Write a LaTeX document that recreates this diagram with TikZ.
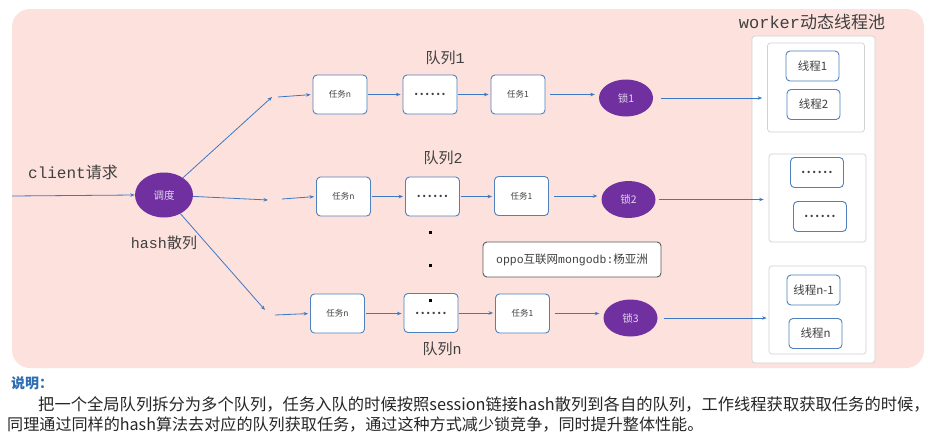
\documentclass[tikz,border=0pt]{standalone}
\usepackage{fontspec}
\setmainfont{Noto Sans CJK SC}
\setmonofont{Liberation Mono}
\usetikzlibrary{shapes.geometric,arrows.meta}
\definecolor{bgpink}{HTML}{FDE1DD}
\definecolor{boxblue}{HTML}{4F81BD}
\definecolor{arrblue}{HTML}{3C78C3}
\definecolor{lockpurple}{HTML}{7030A0}
\definecolor{txtgray}{HTML}{404040}
\definecolor{noteblue}{HTML}{2E6DB5}
\newcommand{\sixdots}{.\hspace{1.6pt}.\hspace{1.6pt}.\hspace{1.6pt}.\hspace{1.6pt}.\hspace{1.6pt}.}
\begin{document}
\begin{tikzpicture}[x=1pt,y=-1pt,
 taskbox/.style={draw=boxblue, line width=0.9pt, fill=white, rounded corners=4pt, minimum width=54pt, minimum height=39pt, inner sep=0pt, font=\fontsize{8.5}{9}\selectfont, text=txtgray},
 dotbox/.style={taskbox, font=\bfseries\fontsize{11}{12}\selectfont},
 thrbox/.style={draw=boxblue, line width=0.9pt, fill=white, rounded corners=4pt, minimum width=53pt, minimum height=30pt, inner sep=0pt, font=\fontsize{11.5}{12}\selectfont, text=txtgray},
 lock/.style={ellipse, fill=lockpurple, minimum width=54pt, minimum height=37pt, inner sep=0pt, text=white!80!lockpurple, font=\fontsize{10.5}{11}\selectfont},
 flow/.style={draw=arrblue, line width=0.8pt, -{Stealth[length=4.5pt,width=3.5pt]}},
 lab/.style={text=txtgray, font=\fontsize{15}{16}\selectfont},
 group/.style={draw=black!18, fill=white, rounded corners=3pt, line width=0.7pt, inner sep=0pt},
 dotsq/.style={fill=black, minimum size=3pt, inner sep=0pt}
]
\useasboundingbox (0,0) rectangle (933,439);
\fill[white] (0,0) rectangle (933,439);
\fill[bgpink, rounded corners=18pt] (12,9) rectangle (924,368);

% labels
\node[lab, font=\fontsize{16}{17}\selectfont] (client) at (73,172) {\texttt{client}请求};
\node[lab] (hashl) at (164,243) {\texttt{hash}散列};
\node[lab] (q1l) at (445,58) {队列\texttt{1}};
\node[lab] (q2l) at (443,158) {队列\texttt{2}};
\node[lab] (qnl) at (442,349) {队列\texttt{n}};
\node[lab, font=\fontsize{17}{18}\selectfont] (wl) at (812,22) {\texttt{worker}动态线程池};

% scheduler
\coordinate (cin) at (12,196);
\node[ellipse, fill=lockpurple, minimum width=58pt, minimum height=45pt, inner sep=0pt, text=white!80!lockpurple, font=\fontsize{10.5}{11}\selectfont] (sched) at (164,195) {调度};
\draw[flow] (cin) -- (sched.west);

% gap coordinates
\coordinate (a1) at (272,97);
\coordinate (b1) at (278,97);
\coordinate (a2) at (268,200);
\coordinate (b2) at (282,199);
\coordinate (a3) at (265,310);
\coordinate (b3) at (275,315);

% row 1
\node[taskbox] (t1n) at (340,94.5) {任务n};
\node[dotbox] (t1d) at (430,94.5) {\sixdots};
\node[taskbox] (t11) at (518,94.5) {任务1};
\node[lock] (l1) at (626,98) {锁1};
% row 2
\node[taskbox] (t2n) at (343.5,196.5) {任务n};
\node[dotbox] (t2d) at (432.5,196.5) {\sixdots};
\node[taskbox] (t21) at (521.5,196) {任务1};
\node[lock] (l2) at (628.5,199.5) {锁2};
% row 3
\node[taskbox] (t3n) at (337.5,313.5) {任务n};
\node[dotbox] (t3d) at (431,313) {\sixdots};
\node[taskbox] (t31) at (522.5,313.5) {任务1};
\node[lock] (l3) at (630.5,318) {锁3};

% vertical dots
\node[dotsq] (d1) at (430,232) {};
\node[dotsq] (d2) at (430,265) {};
\node[dotsq] (d3) at (430,300) {};

% scheduler arrows
\draw[flow] (sched) -- (a1);
\draw[flow] (sched) -- (a2);
\draw[flow] (sched) -- (a3);
\draw[flow, shorten >=2pt] (b1) -- (t1n.west);
\draw[flow, shorten >=2pt] (b2) -- (t2n.west);
\draw[flow, shorten >=2pt] (b3) -- (t3n.west);

% row arrows
\foreach \r in {1,2,3}{
  \draw[flow, shorten >=2pt, shorten <=1pt] (t\r n.east) -- (t\r d.west |- t\r n.east);
  \draw[flow, shorten >=2pt, shorten <=1pt] (t\r d.east) -- (t\r 1.west |- t\r d.east);
  \draw[flow, shorten >=4pt, shorten <=5pt] (t\r 1.east) -- (l\r.west |- t\r 1.east);
}

% oppo box
\node[draw=black!65, line width=0.9pt, fill=white, rounded corners=4pt, minimum width=178pt, minimum height=35pt, inner sep=0pt, text=txtgray, font=\fontsize{11.5}{12}\selectfont] (oppo) at (572,259.5) {\texttt{oppo}互联网\texttt{mongodb:}杨亚洲};

% worker pool
\node[group, minimum width=123pt, minimum height=327pt] (pool) at (813.5,199.5) {};
\node[group, minimum width=97pt, minimum height=89pt] (g1) at (816,87.5) {};
\node[group, minimum width=97pt, minimum height=88pt] (g2) at (817.5,198) {};
\node[group, minimum width=97pt, minimum height=88pt] (g3) at (817.5,310) {};
\node[thrbox] (w1) at (812.5,66) {线程1};
\node[thrbox] (w2) at (813.5,104.5) {线程2};
\node[thrbox, font=\bfseries\fontsize{11}{12}\selectfont] (w3) at (817,172.5) {\sixdots};
\node[thrbox, font=\bfseries\fontsize{11}{12}\selectfont] (w4) at (820,216.5) {\sixdots};
\node[thrbox] (w5) at (813.5,290) {线程n-1};
\node[thrbox] (w6) at (815.5,333.5) {线程n};

\draw[flow, shorten >=5pt, shorten <=8pt] (l1.east) -- (g1.west |- l1.east);
\draw[flow, shorten >=5pt, shorten <=3pt] (l2.east) -- (g2.west |- l2.east);
\draw[flow, shorten >=2pt, shorten <=6pt] (l3.east) -- (g3.west |- l3.east);

% note
\node[anchor=west, text=noteblue, font=\bfseries\fontsize{14}{15}\selectfont, inner sep=0pt] (note) at (11,383) {说明：};
\node[anchor=west, text=black!85, font=\fontsize{16.3}{17}\selectfont, inner sep=0pt] (p1) at (38,404) {把一个全局队列拆分为多个队列，任务入队的时候按照session链接hash散列到各自的队列，工作线程获取获取任务的时候，};
\node[anchor=west, text=black!85, font=\fontsize{16.1}{17}\selectfont, inner sep=0pt] (p2) at (7,425) {同理通过同样的hash算法去对应的队列获取任务，通过这种方式减少锁竞争，同时提升整体性能。};
\end{tikzpicture}
\end{document}
